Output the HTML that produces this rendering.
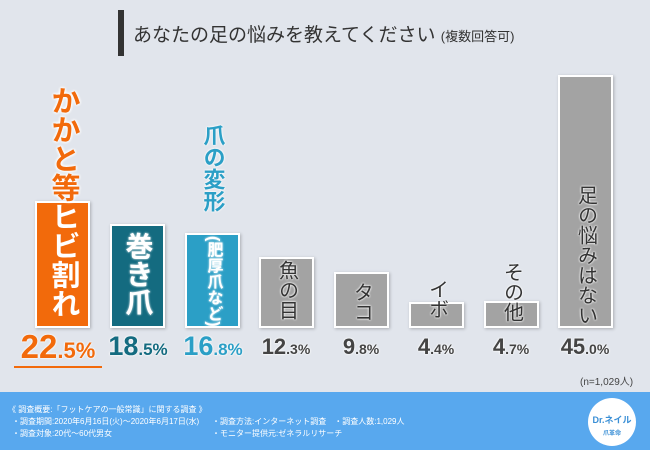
<!DOCTYPE html><html><head><meta charset="utf-8"><style>
*{margin:0;padding:0;box-sizing:border-box}
body{width:650px;height:450px;background:#e1e5ec;position:relative;overflow:hidden;font-family:"Liberation Sans","Noto Sans CJK JP",sans-serif}
.a{position:absolute}
.bar{position:absolute;border:2px solid #fff;box-shadow:1px 1px 3px rgba(0,0,0,.25);bottom:122px}
.vt{position:absolute;writing-mode:vertical-rl;font-weight:bold;text-align:center;left:50%;transform:translateX(-50%);line-height:1;white-space:nowrap}
.w{color:#fff;text-shadow:0 0 2px #fff}
.g{color:#333;text-shadow:0 0 2px #fff,0 0 2px #fff;font-weight:normal}
.v{position:absolute;top:334px;font-weight:bold;text-align:center;width:80px;text-shadow:0 0 2px #fff,0 0 2px #fff;font-size:22px;color:#444}
.v small{font-size:14px}
</style></head><body>
<div class="a" style="left:118px;top:10px;width:6px;height:46px;background:#333"></div>
<div class="a" style="left:133px;top:20px;font-size:19px;color:#333">あなたの足の悩みを教えてください <span style="font-size:13px">(複数回答可)</span></div>

<div class="bar" style="left:35px;width:55px;height:127px;background:#f26a0b"></div>
<div class="a" style="left:35px;top:86px;width:55px;height:240px"><div class="vt" style="top:0;font-size:29px;color:#f26a0b;text-shadow:0 0 3px #fff,0 0 3px #fff,0 0 3px #fff">かかと等<span style="color:#fff;text-shadow:none">ヒビ割れ</span></div></div>
<div class="bar" style="left:110px;width:55px;height:104px;background:#146b80"></div>
<div class="a" style="left:110px;top:232px;width:55px"><div class="vt w" style="font-size:28px">巻き爪</div></div>
<div class="bar" style="left:185px;width:55px;height:95px;background:#2b9fc6"></div>
<div class="a" style="left:185px;top:124px;width:55px"><div class="vt" style="font-size:22px;color:#2b9fc6;text-shadow:0 0 2px #fff,0 0 2px #fff">爪の変形</div></div>
<div class="a" style="left:185px;top:236px;width:55px"><div class="vt w" style="font-size:16px">(肥厚爪など)</div></div>
<div class="bar" style="left:259px;width:55px;height:71px;background:#a3a3a3"></div>
<div class="a" style="left:259px;top:260px;width:55px"><div class="vt g" style="font-size:20px">魚の目</div></div>
<div class="bar" style="left:334px;width:55px;height:56px;background:#a3a3a3"></div>
<div class="a" style="left:334px;top:282px;width:55px"><div class="vt g" style="font-size:20px">タコ</div></div>
<div class="bar" style="left:409px;width:55px;height:26px;background:#a3a3a3"></div>
<div class="a" style="left:409px;top:279px;width:55px"><div class="vt g" style="font-size:20px">イボ</div></div>
<div class="bar" style="left:484px;width:55px;height:27px;background:#a3a3a3"></div>
<div class="a" style="left:484px;top:262px;width:55px"><div class="vt g" style="font-size:20px">その他</div></div>
<div class="bar" style="left:558px;width:55px;height:253px;background:#a3a3a3"></div>
<div class="a" style="left:558px;top:185px;width:55px"><div class="vt g" style="font-size:20px">足の悩みはない</div></div>

<div class="v" style="left:12px;top:328px;width:92px;font-size:33px;color:#f26a0b">22<small style="font-size:22px">.5%</small></div>
<div class="a" style="left:14px;top:366px;width:88px;height:2px;background:#f26a0b"></div>
<div class="v" style="left:98px;color:#146b80;font-size:27px;top:331px">18<small style="font-size:17px">.5%</small></div>
<div class="v" style="left:173px;color:#2b9fc6;font-size:27px;top:331px">16<small style="font-size:17px">.8%</small></div>
<div class="v" style="left:246px">12<small>.3%</small></div>
<div class="v" style="left:321px">9<small>.8%</small></div>
<div class="v" style="left:396px">4<small>.4%</small></div>
<div class="v" style="left:471px">4<small>.7%</small></div>
<div class="v" style="left:545px">45<small>.0%</small></div>
<div class="a" style="left:580px;top:373px;font-size:10px;color:#444">(n=1,029人)</div>

<div class="a" style="left:0;top:392px;width:650px;height:58px;background:#58a8ee;color:#fff;font-size:8px;line-height:12px">
<div class="a" style="left:8px;top:12px;white-space:nowrap">《 調査概要:「フットケアの一般常識」に関する調査 》</div>
<div class="a" style="left:12px;top:24px;white-space:nowrap">・調査期間:2020年6月16日(火)〜2020年6月17日(水)</div>
<div class="a" style="left:212px;top:24px;white-space:nowrap">・調査方法:インターネット調査　・調査人数:1,029人</div>
<div class="a" style="left:12px;top:36px;white-space:nowrap">・調査対象:20代〜60代男女</div>
<div class="a" style="left:212px;top:36px;white-space:nowrap">・モニター提供元:ゼネラルリサーチ</div>
<div class="a" style="left:588px;top:6px;width:48px;height:48px;border-radius:50%;background:#fff;color:#3a8fd6;font-size:9px;text-align:center;padding-top:16px;font-weight:bold">Dr.ネイル<br><span style="font-size:6px">爪革命</span></div>
</div>
</body></html>
